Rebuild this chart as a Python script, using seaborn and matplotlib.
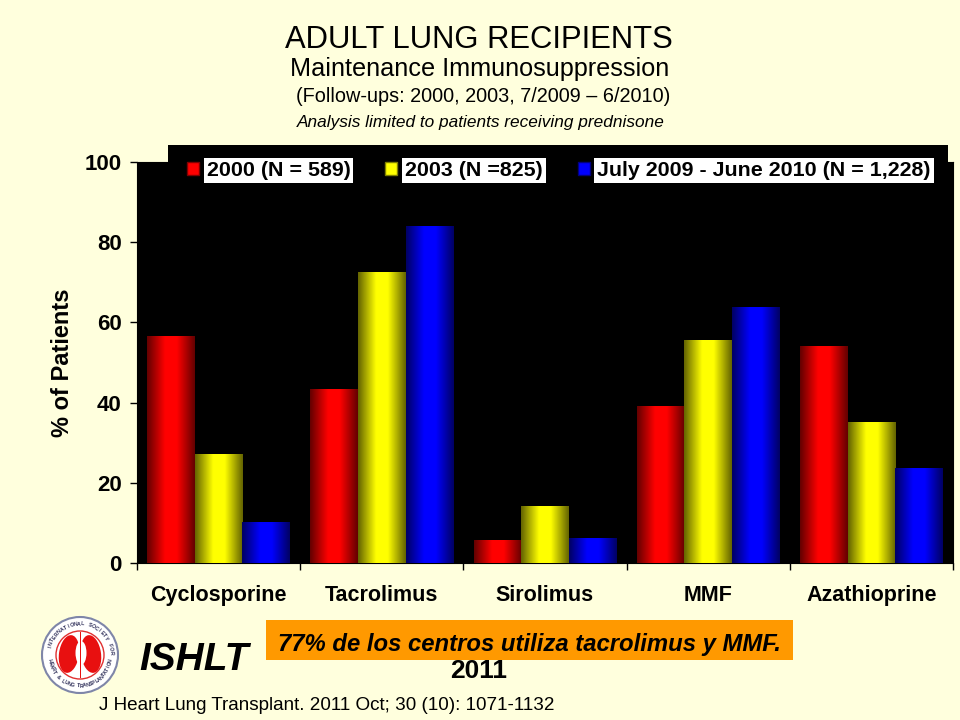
import numpy as np
import pandas as pd
import matplotlib
matplotlib.use('Agg')
import matplotlib.pyplot as plt
from matplotlib.colors import LinearSegmentedColormap, to_rgb
from matplotlib.patches import Circle, Ellipse, Rectangle
import seaborn as sns

# Chart data
drugs = ['Cyclosporine', 'Tacrolimus', 'Sirolimus', 'MMF', 'Azathioprine']
series_names = ['2000 (N = 589)', '2003 (N =825)', 'July 2009 - June 2010 (N = 1,228)']
values_2000 = [56.4, 43.2, 5.7, 39.0, 54.1]
values_2003 = [27.0, 72.4, 14.2, 55.4, 35.0]
values_2010 = [10.0, 83.8, 6.0, 63.8, 23.5]
y_ticks = [0, 20, 40, 60, 80, 100]

bg = '#FFFFDD'
bar_colors = ['#FF0000', '#FFFF00', '#0000FF']

df = pd.DataFrame({
    'drug': drugs * 3,
    'series': [s for s in series_names for _ in drugs],
    'pct': values_2000 + values_2003 + values_2010,
})

sns.set_style('white')
plt.rcParams['font.family'] = ['Liberation Sans', 'DejaVu Sans']
plt.rcParams['text.color'] = 'black'
plt.rcParams['axes.labelcolor'] = 'black'
plt.rcParams['xtick.color'] = 'black'
plt.rcParams['ytick.color'] = 'black'

fig = plt.figure(figsize=(9.6, 7.2), dpi=100, facecolor=bg)
ax = fig.add_axes([137 / 960, 1 - 563 / 720, 816 / 960, 401 / 720], facecolor='black')

sns.barplot(data=df, x='drug', y='pct', hue='series', hue_order=series_names,
            palette=bar_colors, width=0.876, gap=0, saturation=1, linewidth=0, ax=ax)

# Shade each bar dark at the edges, bright in the middle
shade = np.abs(np.linspace(-1, 1, 65)).reshape(1, -1)
for container, col in zip(ax.containers, bar_colors):
    dark = tuple(c * 0.4 for c in to_rgb(col))
    cmap = LinearSegmentedColormap.from_list('bar', [(0, col), (0.25, col), (1, dark)], N=128)
    for bar in container:
        x0, w, h = bar.get_x(), bar.get_width(), bar.get_height()
        ax.imshow(shade, cmap=cmap, vmin=0, vmax=1, aspect='auto', extent=(x0, x0 + w, 0, h),
                  interpolation='bilinear', zorder=3)
ax.set_xlim(-0.5, len(drugs) - 0.5)
ax.set_ylim(0, 100)

ax.set_xlabel('')
ax.set_ylabel('% of Patients', fontsize=17, fontweight='bold', labelpad=7.6)
ax.set_yticks(y_ticks)
ax.set_xticks(range(len(drugs)), drugs)
ax.set_xticks(np.arange(-0.5, len(drugs)), minor=True)
ax.tick_params(axis='x', which='major', length=0, pad=15.5)
ax.tick_params(axis='x', which='minor', length=5, width=1, color='black', bottom=True)
ax.tick_params(axis='y', length=5, width=1, color='black', left=True, pad=6)
for lab in ax.get_xticklabels():
    lab.set_fontsize(15.5)
    lab.set_fontweight('bold')
for lab in ax.get_yticklabels():
    lab.set_fontsize(16)
    lab.set_fontweight('bold')
for spine in ax.spines.values():
    spine.set_color('black')

# Black legend band sticking out of the top of the plot
ax.add_patch(Rectangle((168 / 960, 1 - 190 / 720), 780 / 960, 45 / 720, transform=fig.transFigure,
                       facecolor='black', edgecolor='none', clip_on=False, zorder=5))

handles = ax.get_legend().legend_handles
for h, col in zip(handles, bar_colors):
    h.set_edgecolor(tuple(c * 0.5 for c in to_rgb(col)))
    h.set_linewidth(1)
leg = ax.legend(handles, series_names, loc='upper left', ncol=3,
                bbox_to_anchor=(171 / 960, 1 - 145 / 720), bbox_transform=fig.transFigure,
                borderaxespad=0, frameon=False,
                prop={'size': 15.4, 'weight': 'bold'}, handlelength=0.55, handleheight=0.6,
                handletextpad=0.36, columnspacing=1.64, borderpad=0.75)
leg.set_zorder(10)
for t in leg.get_texts():
    t.set_bbox(dict(facecolor='white', edgecolor='none', pad=2.2))

# Slide text and logo, placed in pixel coordinates
over = fig.add_axes([0, 0, 1, 1], facecolor='none')
over.set_xlim(0, 960)
over.set_ylim(720, 0)
over.axis('off')

over.text(479, 40, 'ADULT LUNG RECIPIENTS', ha='center', va='center', fontsize=22.3)
over.text(480, 69, 'Maintenance Immunosuppression', ha='center', va='center', fontsize=18.2)
over.text(483, 96, '(Follow-ups: 2000, 2003, 7/2009 \u2013 6/2010)', ha='center', va='center', fontsize=14.3)
over.text(481, 123, 'Analysis limited to patients receiving prednisone', ha='center', va='center',
          fontsize=12.4, fontstyle='italic')

over.add_patch(Rectangle((266, 620), 527, 40, facecolor='#FF9900', edgecolor='none'))
over.text(529, 644, '77% de los centros utiliza tacrolimus y MMF.', ha='center', va='center',
          fontsize=17.2, fontweight='bold', fontstyle='italic')
over.text(479, 671, '2011', ha='center', va='center', fontsize=19, fontweight='bold')
over.text(139, 660, 'ISHLT', ha='left', va='center', fontsize=28, fontweight='bold', fontstyle='italic')
over.text(99, 706, 'J Heart Lung Transplant. 2011 Oct; 30 (10): 1071-1132', ha='left', va='center', fontsize=13.6)

# ISHLT logo
cx, cy = 80, 655
over.add_patch(Circle((cx, cy), 38, facecolor='white', edgecolor='#7F86A8', linewidth=1.5))
over.add_patch(Circle((cx, cy), 24, facecolor='white', edgecolor='#E03030', linewidth=1))
over.add_patch(Ellipse((cx - 11, cy - 1), 20, 38, angle=8, facecolor='#E81010', edgecolor='none'))
over.add_patch(Ellipse((cx + 11, cy - 1), 20, 38, angle=-8, facecolor='#E81010', edgecolor='none'))
over.add_patch(Ellipse((cx + 1, cy - 2), 11, 24, facecolor='white', edgecolor='none'))
over.add_patch(Rectangle((cx - 0.5, cy - 23), 1, 46, facecolor='#E81010', edgecolor='none'))


def ring_text(text, start, end, radius, flip=False):
    for ang, ch in zip(np.linspace(start, end, len(text)), text):
        rad = np.deg2rad(ang)
        x = cx + radius * np.cos(rad)
        y = cy - radius * np.sin(rad)
        rot = ang + 90 if flip else ang - 90
        over.text(x, y, ch, ha='center', va='center', rotation=rot, fontsize=3.8,
                  fontweight='bold', color='#30305A')


ring_text('INTERNATIONAL SOCIETY FOR', 165, 5, 31)
ring_text('HEART & LUNG TRANSPLANTATION', 190, 350, 31, flip=True)

fig.savefig('out.png', dpi=100, facecolor=bg)
